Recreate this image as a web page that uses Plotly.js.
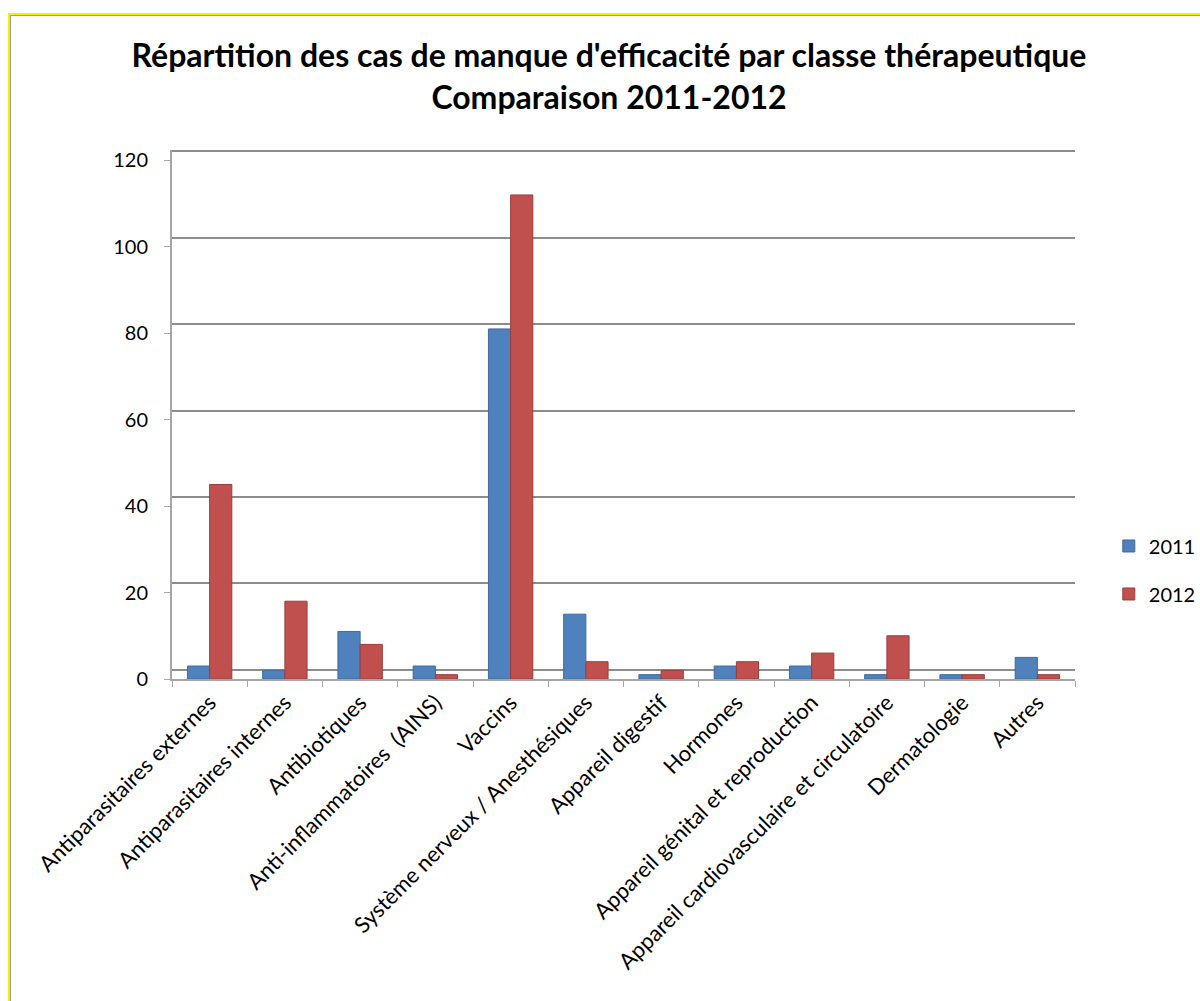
<!DOCTYPE html>
<html>
<head>
<meta charset="utf-8">
<script src="https://cdn.plot.ly/plotly-3.0.1.min.js"></script>
<style>
  body { margin: 0; background: #fff; }
  #chart { width: 1200px; height: 1001px; }
  #frame {
    position: absolute; left: 8px; top: 13px; width: 1200px; height: 1000px;
    border-top: 2px solid #f2f200; border-left: 2px solid #f2f200;
    box-shadow: inset 1px 1px 0 #9a9a9a; pointer-events: none;
  }
</style>
</head>
<body>
<div id="chart"></div>
<div id="frame"></div>
<script>
const categories = [
  'Antiparasitaires externes',
  'Antiparasitaires internes',
  'Antibiotiques',
  'Anti-inflammatoires  (AINS)',
  'Vaccins',
  'Système nerveux / Anesthésiques',
  'Appareil digestif',
  'Hormones',
  'Appareil génital et reproduction',
  'Appareil cardiovasculaire et circulatoire',
  'Dermatologie',
  'Autres'
];
const values2011 = [3, 2, 11, 3, 81, 15, 1, 3, 3, 1, 1, 5];
const values2012 = [45, 18, 8, 1, 112, 4, 2, 4, 6, 10, 1, 1];
const yTicks = [0, 20, 40, 60, 80, 100, 120];

const font = 'Lato, "Open Sans", sans-serif';

const trace2011 = {
  x: categories,
  y: values2011,
  type: 'bar',
  name: '2011',
  legendgroup: 'a',
  marker: { color: '#4F81BD', line: { color: '#3f6a9e', width: 1 } }
};

const trace2012 = {
  x: categories,
  y: values2012,
  type: 'bar',
  name: '2012',
  legendgroup: 'b',
  marker: { color: '#C0504D', line: { color: '#9e3c3a', width: 1 } }
};

// invisible trace on a second y axis, only used to draw the back-wall gridlines
const wall = {
  x: categories,
  y: values2011,
  type: 'bar',
  yaxis: 'y2',
  showlegend: false,
  hoverinfo: 'skip',
  marker: { color: 'rgba(0,0,0,0)' }
};

const layout = {
  width: 1200,
  height: 1001,
  paper_bgcolor: 'rgba(0,0,0,0)',
  plot_bgcolor: 'rgba(0,0,0,0)',
  margin: { l: 172, r: 125, t: 150, b: 322 },
  title: {
    text: "<b>Répartition des cas de manque d'efficacité par classe thérapeutique<br>Comparaison 2011-2012</b>",
    font: { family: font, size: 32, color: '#000' },
    x: 0.5075,
    xanchor: 'center',
    y: 0.933,
    yanchor: 'top'
  },
  barmode: 'group',
  bargap: 0.41,
  bargroupgap: 0,
  font: { family: font, color: '#000' },
  xaxis: {
    type: 'category',
    tickangle: -45,
    tickfont: { family: font, size: 22, color: '#000' },
    showline: true,
    linecolor: '#a6a6a6',
    linewidth: 2,
    ticks: 'outside',
    ticklen: 6,
    tickcolor: '#a6a6a6',
    tickson: 'boundaries',
    showgrid: false
  },
  yaxis: {
    range: [0, 122.4],
    tickvals: yTicks,
    tickfont: { family: font, size: 20, color: '#000' },
    ticklabelstandoff: 12,
    showgrid: false,
    zeroline: false,
    showline: true,
    linecolor: '#a6a6a6',
    linewidth: 2,
    ticks: 'outside',
    ticklen: 6,
    tickcolor: '#a6a6a6'
  },
  yaxis2: {
    overlaying: 'y',
    range: [-2.1, 120.3],
    tickvals: yTicks,
    showticklabels: false,
    showgrid: true,
    gridcolor: '#8c8c8c',
    gridwidth: 2,
    zeroline: false,
    showline: false
  },
  legend: {
    xref: 'container',
    yref: 'container',
    x: 0.924,
    xanchor: 'left',
    y: 0.4306,
    yanchor: 'middle',
    font: { family: font, size: 20, color: '#000' },
    itemwidth: 30,
    tracegroupgap: 19,
    traceorder: 'grouped'
  },
  showlegend: true
};

Plotly.newPlot('chart', [wall, trace2011, trace2012], layout, { displayModeBar: false, staticPlot: true });
</script>
</body>
</html>
